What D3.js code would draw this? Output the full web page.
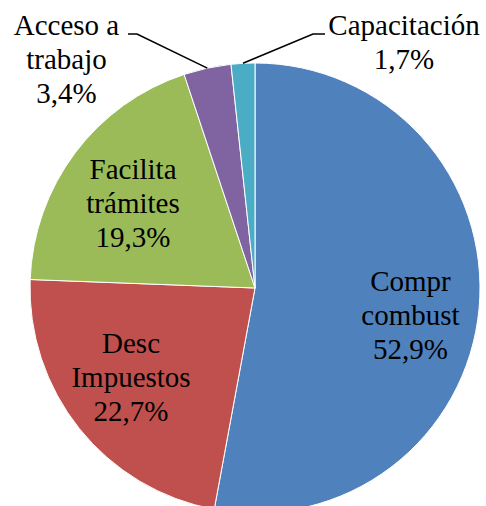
<!DOCTYPE html>
<html><head><meta charset="utf-8">
<script src="https://cdn.jsdelivr.net/npm/d3@7"></script>
</head><body style="margin:0;background:#fff">
<svg id="chart" width="486" height="506"></svg>
<script>
const categories = ["Compr combust", "Desc Impuestos", "Facilita trámites", "Acceso a trabajo", "Capacitación"];
const values = [52.9, 22.7, 19.3, 3.4, 1.7];
const valueLabels = ["52,9%", "22,7%", "19,3%", "3,4%", "1,7%"];
const labelLines = [["Compr", "combust"], ["Desc", "Impuestos"], ["Facilita", "trámites"], ["Acceso a", "trabajo"], ["Capacitación"]];
const colors = ["#4F81BD", "#C0504D", "#9BBB59", "#8064A2", "#4BACC6"];

const cx = 255, cy = 288, r = 225;
const svg = d3.select("#chart");
const g = svg.append("g").attr("transform", `translate(${cx},${cy})`);

const pie = d3.pie().sort(null).value(d => d)(values);
const arc = d3.arc().innerRadius(0).outerRadius(r);

g.selectAll("path.slice").data(pie).join("path")
  .attr("class", "slice")
  .attr("d", arc)
  .attr("fill", (d, i) => colors[i])
  .attr("stroke", "#fff")
  .attr("stroke-width", 1);

const fs = 29, lh = 34;
const fontFamily = "'Liberation Serif', 'Times New Roman', Tinos, serif";

const inside = [
  {i: 0, k: 0.694, dx: 0, dy: 13},
  {i: 1, k: 0.706, dx: 0, dy: -10},
  {i: 2, k: 0.678, dx: 0, dy: 6.6}
];
function posAt(d, k) {
  const a = (d.startAngle + d.endAngle) / 2;
  return [Math.sin(a) * r * k, -Math.cos(a) * r * k];
}
function drawLabel(i, x, y) {
  const lines = labelLines[i].concat([valueLabels[i]]);
  const n = lines.length;
  lines.forEach((s, j) => {
    g.append("text")
      .attr("x", x)
      .attr("y", y + (j - (n - 1) / 2) * lh + fs * 0.33)
      .attr("text-anchor", "middle")
      .attr("font-size", fs)
      .attr("font-family", fontFamily)
      .attr("fill", "#000")
      .text(s);
  });
}
inside.forEach(o => {
  const [x, y] = posAt(pie[o.i], o.k);
  drawLabel(o.i, x + o.dx, y + o.dy);
});

const outside = [
  {i: 3, elbow: [-118, -254], end: [-127, -254], label: [-188.5, -228.7]},
  {i: 4, elbow: [58, -254], end: [70, -254], label: [149, -245.2]}
];
outside.forEach(o => {
  const [x0, y0] = posAt(pie[o.i], 1.0);
  g.append("polyline")
    .attr("points", [[x0, y0], o.elbow, o.end].map(p => p.join(",")).join(" "))
    .attr("fill", "none").attr("stroke", "#000").attr("stroke-width", 1.6);
  drawLabel(o.i, o.label[0], o.label[1]);
});
</script>
</body></html>
